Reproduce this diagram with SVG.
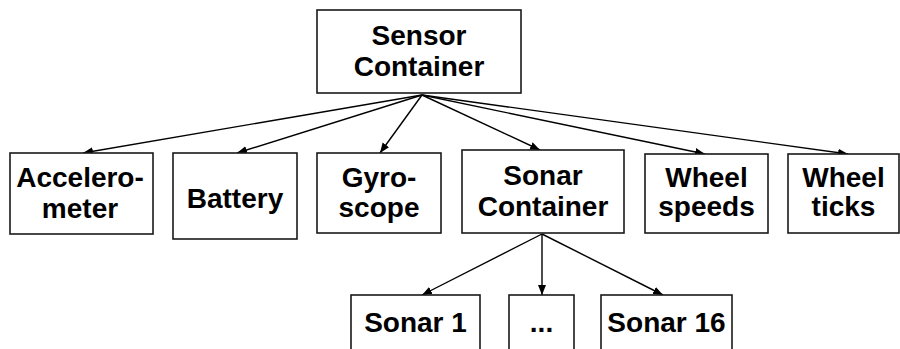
<svg xmlns="http://www.w3.org/2000/svg" width="900" height="349" viewBox="0 0 900 349">
  <style>
    .box { fill: #fff; stroke: #1a1a1a; stroke-width: 1.6; }
    .lbl { font-family: "Liberation Sans", Arial, sans-serif; font-weight: bold; font-size: 28px; fill: #000; text-anchor: middle; }
    .edge { stroke: #000; stroke-width: 1.4; fill: none; marker-end: url(#arrow); }
  </style>
  <defs>
    <marker id="arrow" viewBox="0 0 10 10" refX="10" refY="5" markerWidth="10" markerHeight="10" markerUnits="userSpaceOnUse" orient="auto">
      <path d="M0,1 L10,5 L0,9 Z" fill="#000"/>
    </marker>
  </defs>
  <rect width="900" height="349" fill="#fff"/>

  <g id="connectors">
    <line class="edge" x1="422" y1="95" x2="83" y2="153"/>
    <line class="edge" x1="422" y1="95" x2="237" y2="153"/>
    <line class="edge" x1="422" y1="95" x2="380" y2="153"/>
    <line class="edge" x1="422" y1="95" x2="540" y2="150"/>
    <line class="edge" x1="422" y1="95" x2="705" y2="154"/>
    <line class="edge" x1="422" y1="95" x2="848" y2="154"/>
    <line class="edge" x1="542" y1="234" x2="422" y2="295"/>
    <line class="edge" x1="542" y1="234" x2="542" y2="295"/>
    <line class="edge" x1="542" y1="234" x2="663" y2="295"/>
  </g>

  <g id="sensor-container">
    <rect class="box" x="317" y="10" width="204" height="83"/>
    <text class="lbl" x="419" y="45">Sensor</text>
    <text class="lbl" x="419" y="76">Container</text>
  </g>

  <g id="accelerometer">
    <rect class="box" x="10" y="153" width="143" height="81"/>
    <text class="lbl" x="80" y="187">Accelero-</text>
    <text class="lbl" x="80" y="218">meter</text>
  </g>

  <g id="battery">
    <rect class="box" x="173" y="153" width="124" height="86"/>
    <text class="lbl" x="235" y="208">Battery</text>
  </g>

  <g id="gyroscope">
    <rect class="box" x="317" y="153" width="124" height="80"/>
    <text class="lbl" x="379" y="187">Gyro-</text>
    <text class="lbl" x="379" y="217">scope</text>
  </g>

  <g id="sonar-container">
    <rect class="box" x="462" y="150" width="162" height="83"/>
    <text class="lbl" x="543" y="185">Sonar</text>
    <text class="lbl" x="543" y="216">Container</text>
  </g>

  <g id="wheel-speeds">
    <rect class="box" x="645" y="154" width="123" height="79"/>
    <text class="lbl" x="706.5" y="187">Wheel</text>
    <text class="lbl" x="706.5" y="216">speeds</text>
  </g>

  <g id="wheel-ticks">
    <rect class="box" x="788" y="154" width="111" height="79"/>
    <text class="lbl" x="843.5" y="187">Wheel</text>
    <text class="lbl" x="843.5" y="216">ticks</text>
  </g>

  <g id="sonar-1">
    <rect class="box" x="351" y="295" width="129" height="70"/>
    <text class="lbl" x="415.5" y="332">Sonar 1</text>
  </g>

  <g id="sonar-ellipsis">
    <rect class="box" x="509" y="295" width="65" height="70"/>
    <text class="lbl" x="541.5" y="332">...</text>
  </g>

  <g id="sonar-16">
    <rect class="box" x="601" y="295" width="131" height="70"/>
    <text class="lbl" x="666.5" y="332">Sonar 16</text>
  </g>
</svg>
